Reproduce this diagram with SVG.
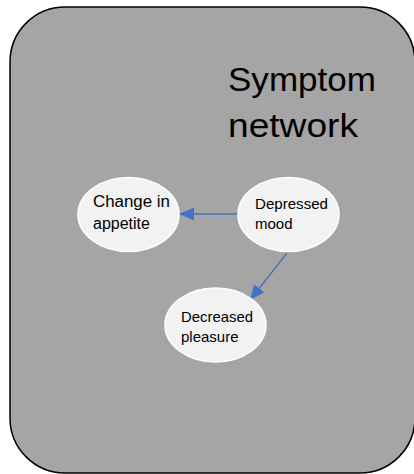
<svg xmlns="http://www.w3.org/2000/svg" width="414" height="474" viewBox="0 0 414 474">
<style>
.node{fill:#f2f2f2;stroke:#ffffff;stroke-width:1.5}
.lbl{font-family:"Liberation Sans",Arial,sans-serif;fill:#000}
.edge{stroke:#4472c4;stroke-width:1.3;fill:none}
</style>
<defs>
<marker id="ah2" markerWidth="15" markerHeight="13" refX="15" refY="6.5" orient="auto" markerUnits="userSpaceOnUse">
<path d="M0,0 L15,6.5 L0,13 Z" fill="#4472c4"/>
</marker>
</defs>
<g id="background">
<rect x="10" y="7" width="405" height="466" rx="55" ry="55" fill="#a5a5a5" stroke="#000" stroke-width="1.5"/>
<text class="lbl" x="228" y="91" font-size="33" textLength="148" lengthAdjust="spacingAndGlyphs">Symptom</text>
<text class="lbl" x="228" y="137" font-size="33" textLength="130" lengthAdjust="spacingAndGlyphs">network</text>
</g>
<g id="connectors">
<line class="edge" x1="239" y1="214" x2="179" y2="214" marker-end="url(#ah2)"/>
<line class="edge" x1="287" y1="253" x2="250" y2="300" marker-end="url(#ah2)"/>
</g>
<g id="change-in-appetite">
<ellipse class="node" cx="128.5" cy="214.5" rx="50.5" ry="37"/>
<text class="lbl" x="93" y="207" font-size="16" textLength="77" lengthAdjust="spacingAndGlyphs">Change in</text>
<text class="lbl" x="93" y="229" font-size="16">appetite</text>
</g>
<g id="depressed-mood">
<ellipse class="node" cx="288.5" cy="214.5" rx="50.5" ry="37"/>
<text class="lbl" x="255" y="209" font-size="15" textLength="73" lengthAdjust="spacingAndGlyphs">Depressed</text>
<text class="lbl" x="255" y="229" font-size="15">mood</text>
</g>
<g id="decreased-pleasure">
<ellipse class="node" cx="215.5" cy="325" rx="50.5" ry="37"/>
<text class="lbl" x="181" y="322" font-size="15" textLength="72" lengthAdjust="spacingAndGlyphs">Decreased</text>
<text class="lbl" x="181" y="342" font-size="15">pleasure</text>
</g>
</svg>
